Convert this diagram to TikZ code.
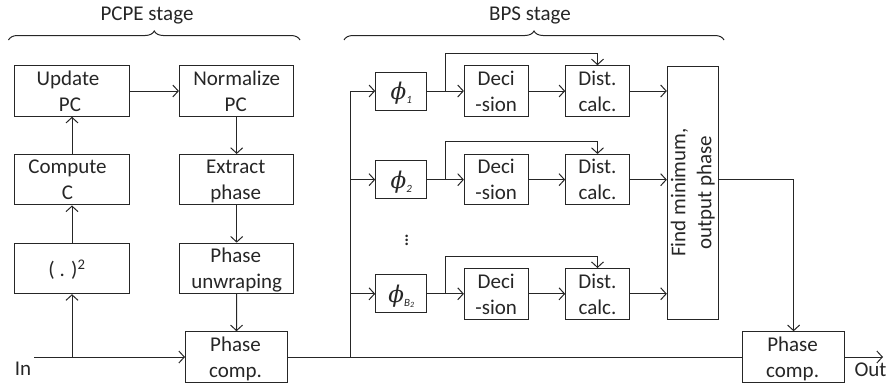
\documentclass[tikz,border=0pt]{standalone}
\usepackage{fontspec}
\setmainfont{Carlito}
\newfontfamily\phifont{DejaVu Serif}
\usetikzlibrary{arrows.meta,decorations.pathreplacing}
\newcommand{\phisym}[1]{{\fontsize{23}{26}\selectfont\itshape\phifont ϕ}{\fontsize{11}{12}\selectfont\itshape\raisebox{-4pt}{#1}}}
\tikzset{
  every node/.style={font=\fontsize{21}{26}\selectfont, text=black!85},
  blk/.style={draw=black!85, line width=1pt, rectangle, inner sep=0pt, align=center, text depth=0pt},
  wide/.style={blk, minimum width=114.5pt, minimum height=50.5pt},
  comp/.style={blk, minimum width=102pt, minimum height=50.5pt},
  phib/.style={blk, minimum width=51pt, minimum height=38pt},
  small/.style={blk, minimum width=63.6pt, minimum height=50.5pt},
  flow/.style={draw=black!85, line width=1pt, -{Straight Barb[length=5.5pt,width=12pt,line width=1pt]}},
  wire/.style={draw=black!85, line width=1pt},
  bracest/.style={draw=black!85, line width=1pt, decorate, decoration={brace, amplitude=9pt, aspect=0.5}},
  lbl/.style={inner sep=0pt}
}
\begin{document}
\begin{tikzpicture}[x=1pt,y=-1pt]
\useasboundingbox (0,0) rectangle (889,383);
% left column
\node[wide] (upd) at (72,91) {Update\hspace*{8pt}\\PC\hspace*{4pt}};
\node[wide] (cmp) at (72,179.7) {Compute\hspace*{9pt}\\C\hspace*{9pt}};
\node[wide] (sqr) at (72,268.4) {( . )\textsuperscript{2}\hspace*{10pt}};
% second column
\node[wide] (nrm) at (236.7,91) {Normalize\\PC\hspace*{2pt}};
\node[wide] (ext) at (236.7,179.7) {Extract\hspace*{2pt}\\phase\hspace*{2pt}};
\node[wide] (unw) at (236.7,268.4) {Phase\hspace*{2pt}\\unwraping};
\node[comp] (pc1) at (236.5,357) {Phase\hspace*{2pt}\\comp.\hspace*{2pt}};
% BPS rows
\node[phib] (ph1) at (401.2,91) {\phisym{1}};
\node[phib] (ph2) at (401.2,179.7) {\phisym{2}};
\node[phib] (ph3) at (401.2,293.8) {\phisym{B\fontsize{8}{9}\selectfont\raisebox{-1pt}{2}}};
\node[small] (de1) at (496.2,91) {Deci\\-sion};
\node[small] (de2) at (496.2,179.7) {Deci\\-sion};
\node[small] (de3) at (496.2,293.8) {Deci\\-sion};
\node[small] (di1) at (597.5,91) {Dist.\\calc.};
\node[small] (di2) at (597.5,179.7) {Dist.\\calc.};
\node[small] (di3) at (597.5,293.8) {Dist.\\calc.};
\node[blk, minimum width=50.7pt, minimum height=253pt] (fnd) at (692.7,192.5) {};
\node[lbl, rotate=90, align=center] (fndt) at (fnd) {Find minimum,\\output phase};
\node[comp] (pc2) at (793.6,357) {Phase\hspace*{2pt}\\comp.\hspace*{2pt}};
% dots
\node[lbl] (dots) at (406.7,237.5) {\fontsize{21}{21}\selectfont\raisebox{0pt}{$\vdots$}};
% labels
\node[lbl] (in) at (23,369) {In};
\node[lbl] (out) at (870.5,370) {Out};
\node[lbl] (t1) at (147,15) {PCPE stage};
\node[lbl] (t2) at (530,15) {BPS stage};
% coordinates
\coordinate (inS) at (34,357);
\coordinate (inB) at (72,357);
\coordinate (outE) at (883,357);
\coordinate (bus) at (350.7,357);
\coordinate (fb1) at (445.3,91);
\coordinate (fb2) at (445.3,179.7);
\coordinate (fb3) at (445.3,293.8);
\coordinate (top1) at (597.5,53);
\coordinate (top2) at (597.5,141.7);
\coordinate (top3) at (597.5,256);
\coordinate (fout) at (793.6,179.7);
\coordinate (b1a) at (8.5,40);
\coordinate (b1b) at (300,40);
\coordinate (b2a) at (344,40);
\coordinate (b2b) at (724,40);
% braces
\draw[bracest] (b1a) -- (b1b);
\draw[bracest] (b2a) -- (b2b);
% connectors
\draw[flow] (inS) -- (pc1.west);
\draw[flow] (inB) -- (sqr.south);
\draw[flow] (sqr.north) -- (cmp.south);
\draw[flow] (cmp.north) -- (upd.south);
\draw[flow] (upd.east) -- (nrm.west);
\draw[flow] (nrm.south) -- (ext.north);
\draw[flow] (ext.south) -- (unw.north);
\draw[flow] (unw.south) -- (pc1.north);
\draw[wire] (pc1.east) -- (pc2.west);
\draw[flow] (pc2.east) -- (outE);
\draw[wire] (bus) -- (bus |- ph1.west);
\draw[flow] (bus |- ph1.west) -- (ph1.west);
\draw[flow] (bus |- ph2.west) -- (ph2.west);
\draw[flow] (bus |- ph3.west) -- (ph3.west);
\draw[flow] (ph1.east) -- (de1.west);
\draw[flow] (ph2.east) -- (de2.west);
\draw[flow] (ph3.east) -- (de3.west);
\draw[flow] (de1.east) -- (di1.west);
\draw[flow] (de2.east) -- (di2.west);
\draw[flow] (de3.east) -- (di3.west);
\draw[flow] (di1.east) -- (di1.east -| fnd.west);
\draw[flow] (di2.east) -- (di2.east -| fnd.west);
\draw[flow] (di3.east) -- (di3.east -| fnd.west);
\draw[flow] (fb1) -- (fb1 |- top1) -- (top1) -- (di1.north);
\draw[flow] (fb2) -- (fb2 |- top2) -- (top2) -- (di2.north);
\draw[flow] (fb3) -- (fb3 |- top3) -- (top3) -- (di3.north);
\draw[wire] (fout -| fnd.east) -- (fout);
\draw[flow] (fout) -- (pc2.north);
\end{tikzpicture}
\end{document}
